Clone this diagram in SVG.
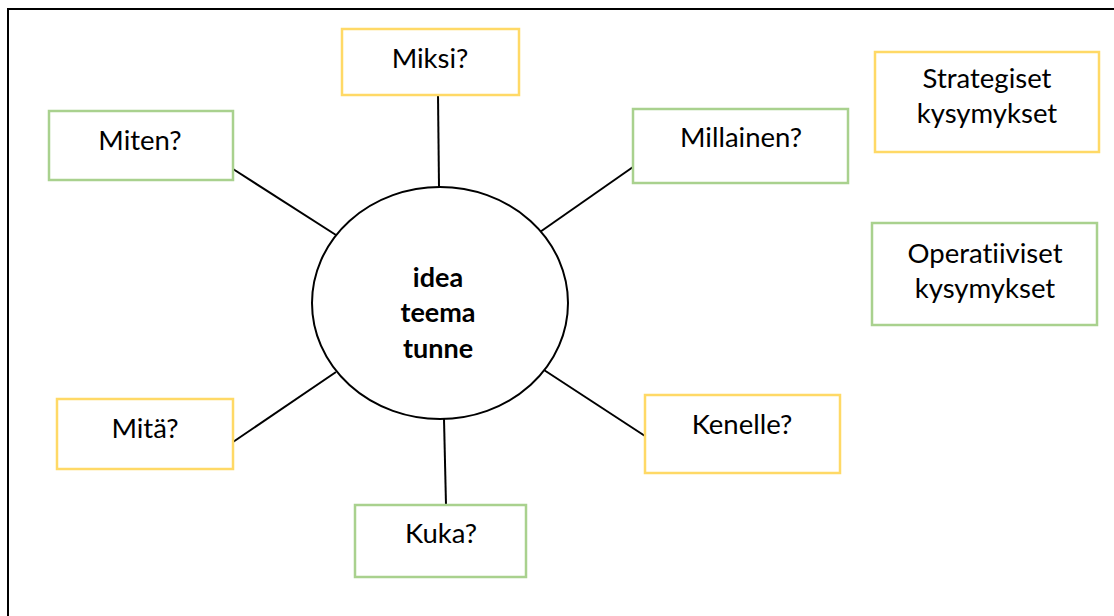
<svg xmlns="http://www.w3.org/2000/svg" width="1114" height="616" viewBox="0 0 1114 616">
<style>
.bg{fill:#ffffff}
.frame{fill:none;stroke:#000;stroke-width:2}
.y{fill:#fff;stroke:#FFD966;stroke-width:2.5}
.g{fill:#fff;stroke:#A9D18E;stroke-width:2.5}
.t{font-family:Lato,"Open Sans","Liberation Sans",sans-serif;font-size:27.5px;fill:#000;text-anchor:middle;font-variant-ligatures:none}
.b{font-weight:bold;font-size:27px}
.c{stroke:#000;stroke-width:2;fill:none}
</style>
<rect class="bg" x="0" y="0" width="1114" height="616"/>
<path class="frame" d="M8,616 V9 H1114"/>
<g id="connectors">
<line class="c" x1="438" y1="95" x2="439" y2="187"/>
<line class="c" x1="233" y1="169" x2="336" y2="235"/>
<line class="c" x1="633" y1="167" x2="540" y2="232"/>
<line class="c" x1="233" y1="442" x2="336" y2="372"/>
<line class="c" x1="544" y1="370" x2="645" y2="436"/>
<line class="c" x1="444" y1="419" x2="446" y2="505"/>
</g>
<g id="center">
<ellipse cx="440" cy="303" rx="128" ry="116" fill="#fff" stroke="#000" stroke-width="2"/>
<text class="t b" x="438" y="287">idea</text>
<text class="t b" x="438" y="322">teema</text>
<text class="t b" x="438" y="358">tunne</text>
</g>
<g id="miksi"><rect class="y" x="342" y="29" width="177" height="66"/><text class="t" x="430" y="68">Miksi?</text></g>
<g id="miten"><rect class="g" x="49" y="111" width="184" height="69"/><text class="t" x="140" y="150">Miten?</text></g>
<g id="millainen"><rect class="g" x="633" y="109" width="215" height="74"/><text class="t" x="741" y="147">Millainen?</text></g>
<g id="mita"><rect class="y" x="57" y="399" width="176" height="70"/><text class="t" x="145" y="438">Mitä?</text></g>
<g id="kenelle"><rect class="y" x="645" y="395" width="195" height="78"/><text class="t" x="742" y="434">Kenelle?</text></g>
<g id="kuka"><rect class="g" x="355" y="505" width="171" height="72"/><text class="t" x="441" y="543">Kuka?</text></g>
<g id="legend-strategiset"><rect class="y" x="875" y="52" width="224" height="100"/><text class="t" x="987" y="88">Strategiset</text><text class="t" x="987" y="123">kysymykset</text></g>
<g id="legend-operatiiviset"><rect class="g" x="872" y="223" width="225" height="102"/><text class="t" x="985" y="263">Operatiiviset</text><text class="t" x="985" y="298">kysymykset</text></g>
</svg>
